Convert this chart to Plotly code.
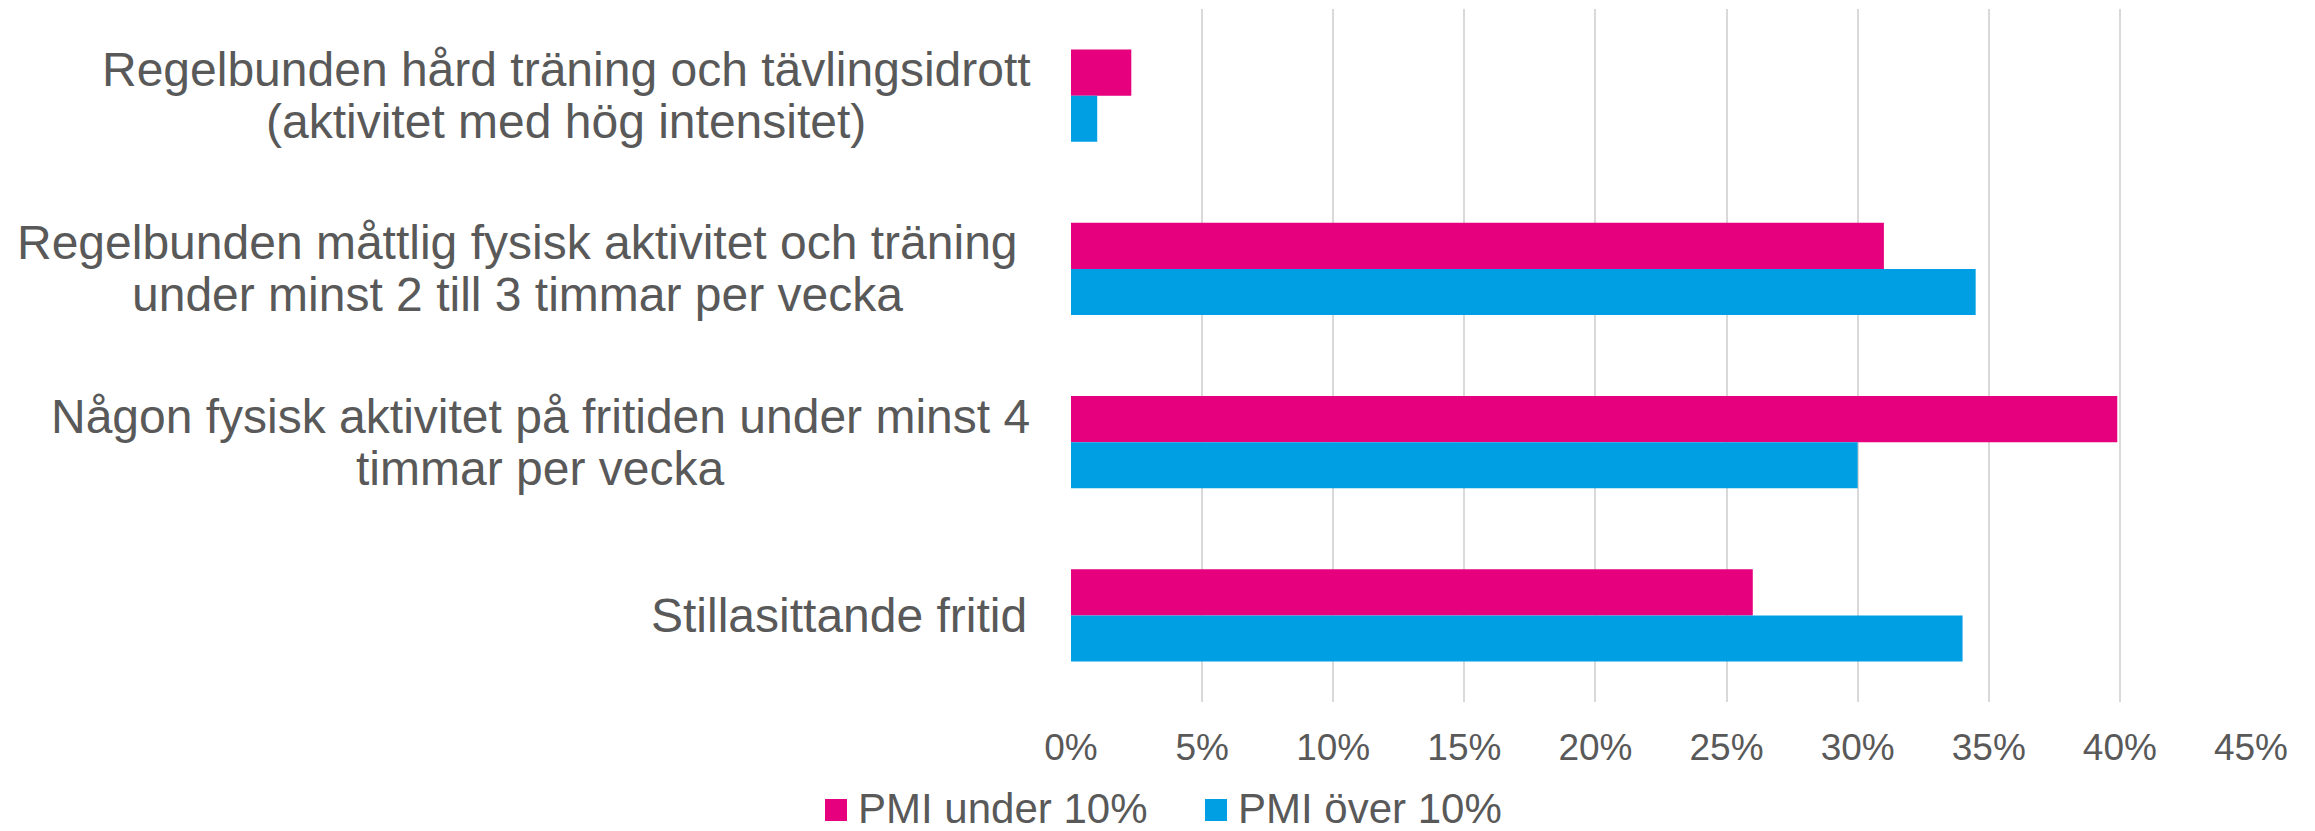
import plotly.graph_objects as go

# ---- data ----
categories = [
    "Regelbunden hård träning och tävlingsidrott (aktivitet med hög intensitet)",
    "Regelbunden måttlig fysisk aktivitet och träning under minst 2 till 3 timmar per vecka",
    "Någon fysisk aktivitet på fritiden under minst 4 timmar per vecka",
    "Stillasittande fritid",
]
label_lines = [
    ["Regelbunden hård träning och tävlingsidrott", "(aktivitet med hög intensitet)"],
    ["Regelbunden måttlig fysisk aktivitet och träning", "under minst 2 till 3 timmar per vecka"],
    ["Någon fysisk aktivitet på fritiden under minst 4", "timmar per vecka"],
    ["Stillasittande fritid"],
]
pmi_under = [0.023, 0.310, 0.399, 0.260]
pmi_over = [0.010, 0.345, 0.300, 0.340]
series_names = ["PMI under 10%", "PMI över 10%"]
tick_values = [0, 0.05, 0.10, 0.15, 0.20, 0.25, 0.30, 0.35, 0.40, 0.45]

# ---- style ----
OFF = 8                      # default body margin of the html page
FW, FH = 2315 - OFF, 831 - OFF
L, R, T, B = 1063, 64, 1, 129
PW, PH = FW - L - R, FH - T - B
PINK = "#E6007E"
BLUE = "#009FE3"
COLORS = [PINK, BLUE]
TXT = "#595959"
FONT = "Arial, Liberation Sans, sans-serif"


def px(page_x):
    return (page_x - OFF - L) / PW


def py(page_y):
    return 1 - (page_y - OFF - T) / PH


fig = go.Figure()
for name, vals, col in zip(series_names, [pmi_under, pmi_over], COLORS):
    fig.add_trace(go.Bar(y=categories, x=vals, name=name, orientation="h",
                         marker=dict(color=col, line=dict(width=0))))

# category labels: right-aligned blocks with centered lines
centers_page = [566, 517, 540, None]
right_page = 1029
pitch = 52
annotations = []
shapes = []
for cat, lines, cpx in zip(categories, label_lines, centers_page):
    n = len(lines)
    for i, line in enumerate(lines):
        shift = -(i - (n - 1) / 2) * pitch
        if cpx is None:
            x, xa = px(right_page), "right"
        else:
            x, xa = px(cpx), "center"
        annotations.append(dict(
            text=line, x=x, xref="paper", xanchor=xa, y=cat, yref="y",
            yanchor="middle", yshift=shift, showarrow=False,
            font=dict(family=FONT, size=48, color=TXT)))

# legend (swatch + text)
legend_swatch_x = [825, 1205]
for name, col, sx in zip(series_names, COLORS, legend_swatch_x):
    shapes.append(dict(type="rect", xref="paper", yref="paper",
                       x0=px(sx), x1=px(sx + 22), y0=py(821), y1=py(799),
                       fillcolor=col, line=dict(width=0)))
    annotations.append(dict(text=name, xref="paper", yref="paper",
                            x=px(sx + 31), xanchor="left", y=py(809),
                            yanchor="middle", showarrow=False,
                            font=dict(family=FONT, size=42, color=TXT)))

fig.update_layout(
    width=FW, height=FH,
    margin=dict(l=L, r=R, t=T, b=B, pad=0, autoexpand=False),
    paper_bgcolor="white", plot_bgcolor="white",
    barmode="group", bargap=0.468, bargroupgap=0,
    font=dict(family=FONT, color=TXT),
    showlegend=False,
    annotations=annotations,
    shapes=shapes,
)
fig.update_xaxes(range=[0, 0.45], tickvals=tick_values, tickformat=".0%",
                 showgrid=True, gridcolor="#D9D9D9", gridwidth=2,
                 zeroline=False, showline=False, ticks="",
                 tickfont=dict(family=FONT, size=37, color=TXT),
                 ticklabelstandoff=20)
fig.update_yaxes(autorange="reversed", showticklabels=False, showgrid=False,
                 zeroline=False, showline=False, ticks="")

fig.write_html("out.html")
